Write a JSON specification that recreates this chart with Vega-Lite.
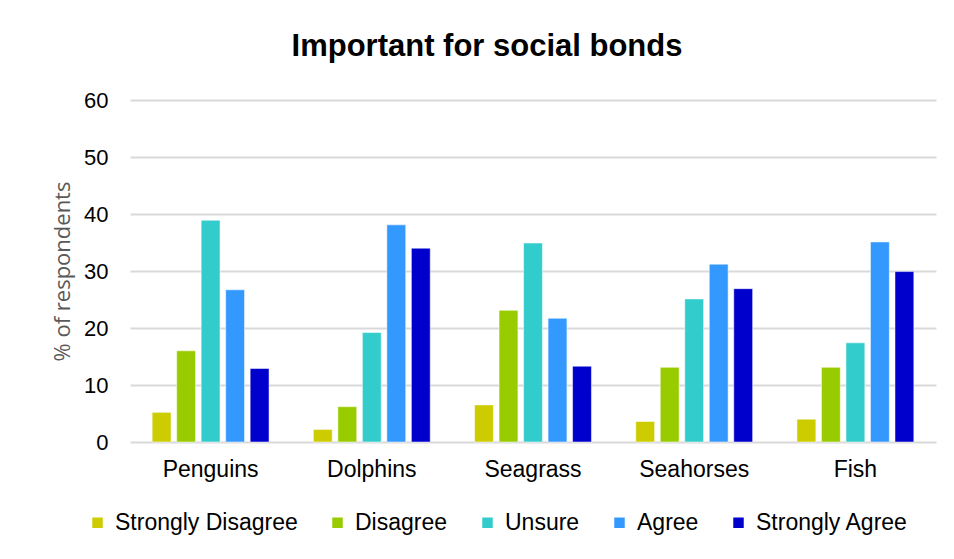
{
  "$schema": "https://vega.github.io/schema/vega-lite/v6.json",
  "width": 806,
  "height": 342,
  "autosize": {"type": "none"},
  "padding": {"left": 130, "top": 100, "right": 18, "bottom": 117},
  "background": "white",
  "title": {
    "text": "Important for social bonds",
    "font": "Liberation Sans",
    "fontSize": 31,
    "fontWeight": "bold",
    "color": "#000000",
    "anchor": "middle",
    "dx": -46,
    "offset": 26
  },
  "data": {
    "values": [
      {"cat": "Penguins", "resp": "Strongly Disagree", "v": 5.2},
      {"cat": "Penguins", "resp": "Disagree", "v": 16.0},
      {"cat": "Penguins", "resp": "Unsure", "v": 38.9},
      {"cat": "Penguins", "resp": "Agree", "v": 26.7},
      {"cat": "Penguins", "resp": "Strongly Agree", "v": 12.9},
      {"cat": "Dolphins", "resp": "Strongly Disagree", "v": 2.2},
      {"cat": "Dolphins", "resp": "Disagree", "v": 6.2},
      {"cat": "Dolphins", "resp": "Unsure", "v": 19.2},
      {"cat": "Dolphins", "resp": "Agree", "v": 38.1},
      {"cat": "Dolphins", "resp": "Strongly Agree", "v": 34.0},
      {"cat": "Seagrass", "resp": "Strongly Disagree", "v": 6.5},
      {"cat": "Seagrass", "resp": "Disagree", "v": 23.1},
      {"cat": "Seagrass", "resp": "Unsure", "v": 34.9},
      {"cat": "Seagrass", "resp": "Agree", "v": 21.7},
      {"cat": "Seagrass", "resp": "Strongly Agree", "v": 13.3},
      {"cat": "Seahorses", "resp": "Strongly Disagree", "v": 3.6},
      {"cat": "Seahorses", "resp": "Disagree", "v": 13.1},
      {"cat": "Seahorses", "resp": "Unsure", "v": 25.1},
      {"cat": "Seahorses", "resp": "Agree", "v": 31.2},
      {"cat": "Seahorses", "resp": "Strongly Agree", "v": 26.9},
      {"cat": "Fish", "resp": "Strongly Disagree", "v": 4.0},
      {"cat": "Fish", "resp": "Disagree", "v": 13.1},
      {"cat": "Fish", "resp": "Unsure", "v": 17.4},
      {"cat": "Fish", "resp": "Agree", "v": 35.1},
      {"cat": "Fish", "resp": "Strongly Agree", "v": 29.9}
    ]
  },
  "mark": {"type": "bar", "stroke": "#ffffff", "strokeOpacity": 0.5, "strokeWidth": 1},
  "encoding": {
    "x": {
      "field": "cat",
      "type": "nominal",
      "sort": ["Penguins", "Dolphins", "Seagrass", "Seahorses", "Fish"],
      "scale": {"paddingInner": 0.24, "paddingOuter": 0.12},
      "axis": {
        "title": null,
        "labelAngle": 0,
        "labelFont": "Liberation Sans",
        "labelFontSize": 23,
        "labelColor": "#000000",
        "labelPadding": 16,
        "ticks": false,
        "domain": false
      }
    },
    "xOffset": {
      "field": "resp",
      "type": "nominal",
      "sort": ["Strongly Disagree", "Disagree", "Unsure", "Agree", "Strongly Agree"],
      "scale": {"paddingInner": 0.23, "paddingOuter": 0.115}
    },
    "y": {
      "field": "v",
      "type": "quantitative",
      "scale": {"domain": [0, 60]},
      "axis": {
        "title": "% of respondents",
        "titleFont": "Open Sans",
        "titleFontSize": 22,
        "titleFontWeight": "normal",
        "titleColor": "#595959",
        "titlePadding": 9,
        "values": [0, 10, 20, 30, 40, 50, 60],
        "labelFont": "Liberation Sans",
        "labelFontSize": 22,
        "labelColor": "#000000",
        "labelPadding": 22,
        "ticks": false,
        "domain": false,
        "gridColor": "#d9d9d9",
        "gridWidth": 2
      }
    },
    "color": {
      "field": "resp",
      "type": "nominal",
      "sort": ["Strongly Disagree", "Disagree", "Unsure", "Agree", "Strongly Agree"],
      "scale": {
        "domain": ["Strongly Disagree", "Disagree", "Unsure", "Agree", "Strongly Agree"],
        "range": ["#cccc00", "#99cc00", "#33cccc", "#3399ff", "#0000cc"]
      },
      "legend": {
        "title": null,
        "orient": "none",
        "legendX": -44,
        "legendY": 411,
        "direction": "horizontal",
        "symbolType": "square",
        "symbolSize": 110,
        "symbolStrokeWidth": 0,
        "labelFont": "Liberation Sans",
        "labelFontSize": 23,
        "labelLimit": 400,
        "labelColor": "#000000",
        "columnPadding": 28,
        "labelOffset": 6
      }
    }
  },
  "config": {
    "view": {"stroke": null}
  }
}
